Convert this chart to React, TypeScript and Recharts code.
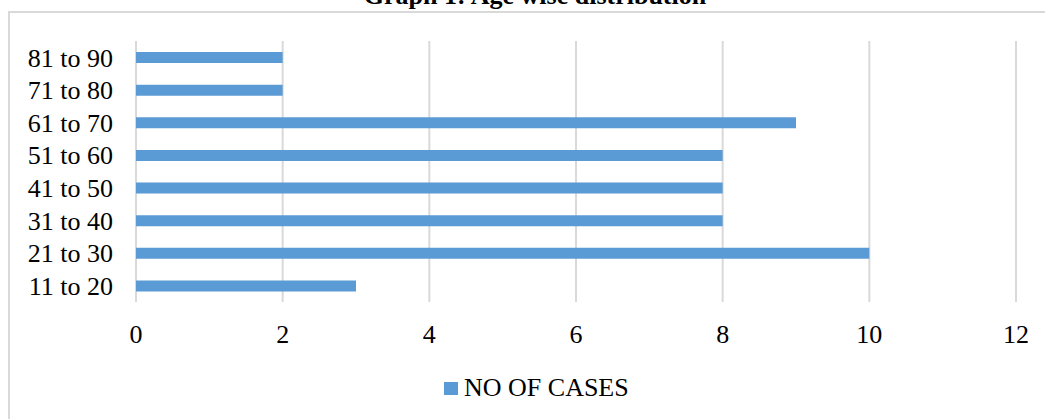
import React from 'react';
import { BarChart, Bar, XAxis, YAxis, CartesianGrid, Legend } from 'recharts';

const ageGroups = ['81 to 90', '71 to 80', '61 to 70', '51 to 60', '41 to 50', '31 to 40', '21 to 30', '11 to 20'];
const noOfCases = [2, 2, 9, 8, 8, 8, 10, 3];
const xTicks = [0, 2, 4, 6, 8, 10, 12];

const FONT = "'Liberation Serif', 'Times New Roman', serif";
const BLUE = '#5B9BD5';
const GRID = '#d9d9d9';

const data = ageGroups.map((name, i) => ({ name, cases: noOfCases[i] }));

const LegendBox = () => (
  <div style={{ display: 'flex', alignItems: 'center', fontFamily: FONT, fontSize: 26, color: '#000', whiteSpace: 'nowrap' }}>
    <span style={{ display: 'inline-block', width: 14, height: 13, background: BLUE, marginRight: 6 }} />
    <span>NO OF CASES</span>
  </div>
);

const App: React.FC = () => {
  return (
    <div style={{ position: 'absolute', left: 0, top: 0, width: 1045, height: 419, overflow: 'hidden', background: '#fff' }}>
      <div
        style={{
          position: 'absolute',
          left: 8,
          top: 11,
          width: 1045,
          height: 420,
          borderTop: `2px solid ${GRID}`,
          borderLeft: `2px solid ${GRID}`,
          boxSizing: 'border-box',
        }}
      />
      <div
        style={{
          position: 'absolute',
          left: 0,
          width: 1070,
          top: -17,
          lineHeight: '26px',
          textAlign: 'center',
          fontFamily: FONT,
          fontSize: 26,
          fontWeight: 'bold',
          color: '#000',
        }}
      >
        Graph 1: Age wise distribution
      </div>
      <div style={{ position: 'absolute', left: 0, top: 0 }}>
        <BarChart
          width={1045}
          height={419}
          data={data}
          layout="vertical"
          margin={{ top: 41, right: 29, bottom: 77, left: 0 }}
        >
          <CartesianGrid horizontal={false} stroke={GRID} strokeWidth={2} />
          <XAxis
            type="number"
            domain={[0, 12]}
            ticks={xTicks}
            axisLine={false}
            tickLine={false}
            tickMargin={17}
            height={40}
            tick={{ fill: '#000', fontSize: 26, fontFamily: FONT }}
          />
          <YAxis
            type="category"
            dataKey="name"
            width={136}
            axisLine={false}
            tickLine={false}
            tickMargin={17}
            interval={0}
            tick={{ fill: '#000', fontSize: 26, fontFamily: FONT }}
          />
          <Legend
            verticalAlign="middle"
            align="center"
            content={() => <LegendBox />}
            wrapperStyle={{ position: 'absolute', top: 373, left: 444, width: 260 }}
          />
          <Bar dataKey="cases" name="NO OF CASES" fill={BLUE} barSize={11} isAnimationActive={false} />
        </BarChart>
      </div>
    </div>
  );
};

export default App;
